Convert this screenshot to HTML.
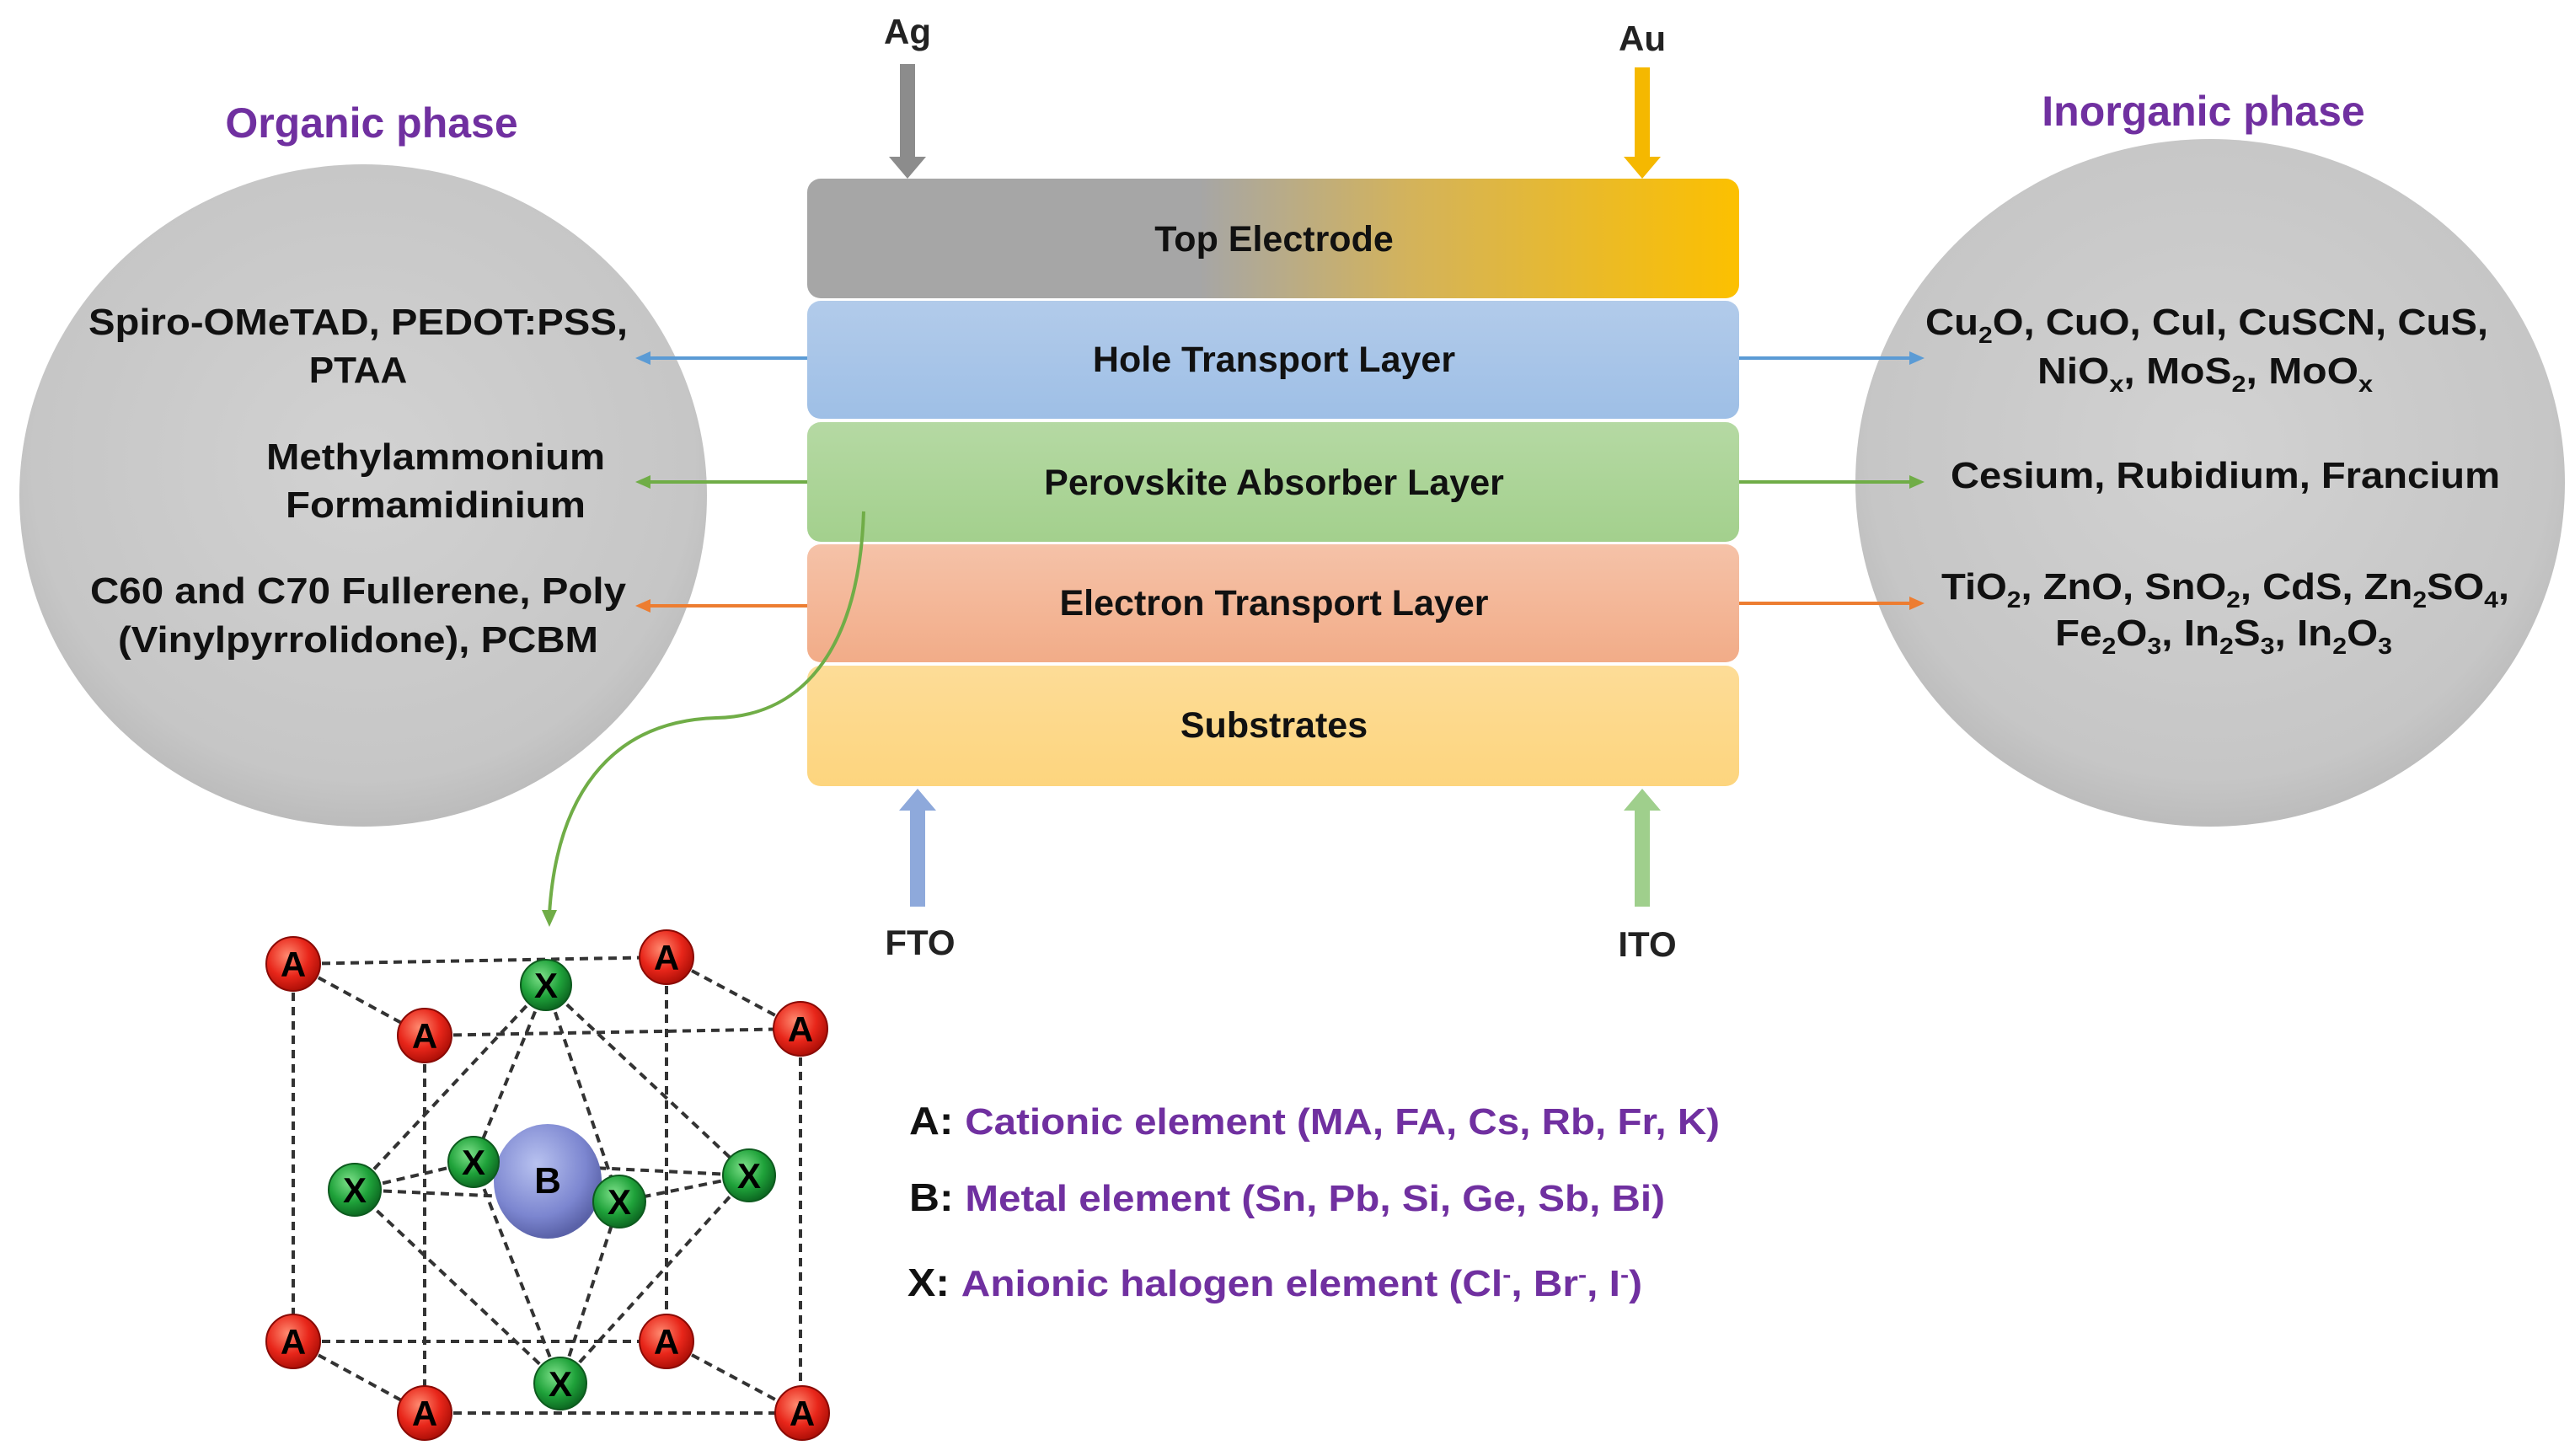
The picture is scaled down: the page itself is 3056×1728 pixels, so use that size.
<!DOCTYPE html>
<html><head><meta charset="utf-8"><style>html,body{margin:0;padding:0;background:#fff}svg{display:block}</style></head>
<body>
<svg width="3056" height="1728" viewBox="0 0 3056 1728" xmlns="http://www.w3.org/2000/svg" font-family="Liberation Sans, Arial, sans-serif" font-weight="bold">
<defs>
<radialGradient id="gc" cx="0.5" cy="0.45" r="0.6"><stop offset="0" stop-color="#d2d2d2"/><stop offset="0.8" stop-color="#c6c6c6"/><stop offset="1" stop-color="#b4b4b4"/></radialGradient>
<linearGradient id="te" x1="0" y1="0" x2="1" y2="0"><stop offset="0" stop-color="#a6a6a6"/><stop offset="0.42" stop-color="#a6a6a6"/><stop offset="0.65" stop-color="#d4b35a"/><stop offset="1" stop-color="#fcc000"/></linearGradient>
<linearGradient id="htl" x1="0" y1="0" x2="0" y2="1"><stop offset="0" stop-color="#b2cbea"/><stop offset="1" stop-color="#9ebfe6"/></linearGradient>
<linearGradient id="pv" x1="0" y1="0" x2="0" y2="1"><stop offset="0" stop-color="#b5d9a3"/><stop offset="1" stop-color="#a3d08d"/></linearGradient>
<linearGradient id="etl" x1="0" y1="0" x2="0" y2="1"><stop offset="0" stop-color="#f5c2a8"/><stop offset="1" stop-color="#f2ac88"/></linearGradient>
<linearGradient id="sub" x1="0" y1="0" x2="0" y2="1"><stop offset="0" stop-color="#fddc97"/><stop offset="1" stop-color="#fdd57e"/></linearGradient>
<radialGradient id="ga" cx="0.4" cy="0.35" r="0.65"><stop offset="0" stop-color="#ff8a70"/><stop offset="0.6" stop-color="#e8261a"/><stop offset="1" stop-color="#b01008"/></radialGradient>
<radialGradient id="gx" cx="0.4" cy="0.35" r="0.65"><stop offset="0" stop-color="#7ee08a"/><stop offset="0.6" stop-color="#1fa23a"/><stop offset="1" stop-color="#0d6a22"/></radialGradient>
<radialGradient id="gb" cx="0.4" cy="0.35" r="0.65"><stop offset="0" stop-color="#b8c2f0"/><stop offset="0.7" stop-color="#7c86d0"/><stop offset="1" stop-color="#5a62a8"/></radialGradient>
</defs>

<ellipse cx="431" cy="588" rx="408" ry="393" fill="url(#gc)"/>
<ellipse cx="2623" cy="573" rx="421" ry="408" fill="url(#gc)"/>

<text x="441" y="163" font-size="50" fill="#7030a0" text-anchor="middle">Organic phase</text>
<text x="2615" y="149" font-size="50" fill="#7030a0" text-anchor="middle">Inorganic phase</text>

<rect x="958" y="212" width="1106" height="142" rx="16" fill="url(#te)"/>
<rect x="958" y="357" width="1106" height="140" rx="16" fill="url(#htl)"/>
<rect x="958" y="501" width="1106" height="142" rx="16" fill="url(#pv)"/>
<rect x="958" y="646" width="1106" height="140" rx="16" fill="url(#etl)"/>
<rect x="958" y="790" width="1106" height="143" rx="16" fill="url(#sub)"/>
<g font-size="43" text-anchor="middle" fill="#111">
<text x="1512" y="298">Top Electrode</text>
<text x="1512" y="441">Hole Transport Layer</text>
<text x="1512" y="587">Perovskite Absorber Layer</text>
<text x="1512" y="730">Electron Transport Layer</text>
<text x="1512" y="875">Substrates</text>
</g>

<text x="1077" y="52" font-size="42" text-anchor="middle" fill="#222">Ag</text>
<rect x="1068" y="76" width="18" height="112" fill="#8c8c8c"/>
<polygon points="1055,186 1099,186 1077,212" fill="#8c8c8c"/>
<text x="1949" y="60" font-size="42" text-anchor="middle" fill="#222">Au</text>
<rect x="1940" y="80" width="18" height="108" fill="#f5b800"/>
<polygon points="1927,186 1971,186 1949,212" fill="#f5b800"/>

<rect x="1080" y="958" width="18" height="118" fill="#8ea9db"/>
<polygon points="1067,962 1111,962 1089,936" fill="#8ea9db"/>
<text x="1092" y="1133" font-size="42" text-anchor="middle" fill="#222">FTO</text>
<rect x="1940" y="958" width="18" height="118" fill="#9fcf8c"/>
<polygon points="1927,962 1971,962 1949,936" fill="#9fcf8c"/>
<text x="1955" y="1135" font-size="42" text-anchor="middle" fill="#222">ITO</text>

<g stroke-width="4">
<line x1="958" y1="425" x2="768" y2="425" stroke="#5b9bd5"/><polygon points="754,425 772,417 772,433" fill="#5b9bd5"/>
<line x1="958" y1="572" x2="768" y2="572" stroke="#70ad47"/><polygon points="754,572 772,564 772,580" fill="#70ad47"/>
<line x1="958" y1="719" x2="768" y2="719" stroke="#ed7d31"/><polygon points="754,719 772,711 772,727" fill="#ed7d31"/>
<line x1="2064" y1="425" x2="2268" y2="425" stroke="#5b9bd5"/><polygon points="2284,425 2266,417 2266,433" fill="#5b9bd5"/>
<line x1="2064" y1="572" x2="2268" y2="572" stroke="#70ad47"/><polygon points="2284,572 2266,564 2266,580" fill="#70ad47"/>
<line x1="2064" y1="716" x2="2268" y2="716" stroke="#ed7d31"/><polygon points="2284,716 2266,708 2266,724" fill="#ed7d31"/>
</g>

<g font-size="44" fill="#111" text-anchor="middle">
<text x="425" y="397" textLength="640" lengthAdjust="spacingAndGlyphs">Spiro-OMeTAD, PEDOT:PSS,</text>
<text x="425" y="454">PTAA</text>
<text x="517" y="557" textLength="402" lengthAdjust="spacingAndGlyphs">Methylammonium</text>
<text x="517" y="614" textLength="356" lengthAdjust="spacingAndGlyphs">Formamidinium</text>
<text x="425" y="716" textLength="636" lengthAdjust="spacingAndGlyphs">C60 and C70 Fullerene, Poly</text>
<text x="425" y="774" textLength="570" lengthAdjust="spacingAndGlyphs">(Vinylpyrrolidone), PCBM</text>
</g>

<g font-size="44" fill="#111" text-anchor="middle">
<text x="2619" y="397" textLength="668" lengthAdjust="spacingAndGlyphs">Cu<tspan font-size="28" dy="10">2</tspan><tspan dy="-10">O, CuO, CuI, CuSCN, CuS,</tspan></text>
<text x="2617" y="455" textLength="398" lengthAdjust="spacingAndGlyphs">NiO<tspan font-size="28" dy="10">x</tspan><tspan dy="-10">, MoS</tspan><tspan font-size="28" dy="10">2</tspan><tspan dy="-10">, MoO</tspan><tspan font-size="28" dy="10">x</tspan></text>
<text x="2641" y="579" textLength="652" lengthAdjust="spacingAndGlyphs">Cesium, Rubidium, Francium</text>
<text x="2641" y="711" textLength="674" lengthAdjust="spacingAndGlyphs">TiO<tspan font-size="28" dy="10">2</tspan><tspan dy="-10">, ZnO, SnO</tspan><tspan font-size="28" dy="10">2</tspan><tspan dy="-10">, CdS, Zn</tspan><tspan font-size="28" dy="10">2</tspan><tspan dy="-10">SO</tspan><tspan font-size="28" dy="10">4</tspan><tspan dy="-10">,</tspan></text>
<text x="2639" y="766" textLength="400" lengthAdjust="spacingAndGlyphs">Fe<tspan font-size="28" dy="10">2</tspan><tspan dy="-10">O</tspan><tspan font-size="28" dy="10">3</tspan><tspan dy="-10">, In</tspan><tspan font-size="28" dy="10">2</tspan><tspan dy="-10">S</tspan><tspan font-size="28" dy="10">3</tspan><tspan dy="-10">, In</tspan><tspan font-size="28" dy="10">2</tspan><tspan dy="-10">O</tspan><tspan font-size="28" dy="10">3</tspan></text>
</g>

<path d="M1025,607 C1020,760 960,850 850,852 C720,856 660,950 652,1085" fill="none" stroke="#70ad47" stroke-width="4"/>
<polygon points="652,1100 643,1080 661,1080" fill="#70ad47"/>

<g stroke="#333" stroke-width="4" stroke-dasharray="10,7" fill="none">
<line x1="348" y1="1144" x2="791" y2="1136"/>
<line x1="348" y1="1144" x2="348" y2="1592"/>
<line x1="791" y1="1136" x2="791" y2="1592"/>
<line x1="348" y1="1592" x2="791" y2="1592"/>
<line x1="504" y1="1229" x2="950" y2="1221"/>
<line x1="504" y1="1229" x2="504" y2="1677"/>
<line x1="950" y1="1221" x2="950" y2="1677"/>
<line x1="504" y1="1677" x2="950" y2="1677"/>
<line x1="348" y1="1144" x2="504" y2="1229"/>
<line x1="791" y1="1136" x2="950" y2="1221"/>
<line x1="348" y1="1592" x2="504" y2="1677"/>
<line x1="791" y1="1592" x2="950" y2="1677"/>
<line x1="648" y1="1169" x2="421" y2="1412"/>
<line x1="648" y1="1169" x2="889" y2="1395"/>
<line x1="648" y1="1169" x2="562" y2="1379"/>
<line x1="648" y1="1169" x2="735" y2="1426"/>
<line x1="665" y1="1642" x2="421" y2="1412"/>
<line x1="665" y1="1642" x2="889" y2="1395"/>
<line x1="665" y1="1642" x2="562" y2="1379"/>
<line x1="665" y1="1642" x2="735" y2="1426"/>
<line x1="421" y1="1412" x2="562" y2="1379"/>
<line x1="421" y1="1412" x2="735" y2="1426"/>
<line x1="889" y1="1395" x2="562" y2="1379"/>
<line x1="889" y1="1395" x2="735" y2="1426"/>
</g>
<g font-size="42" font-weight="bold" text-anchor="middle" fill="#000">
<ellipse cx="650" cy="1402" rx="64" ry="68" fill="url(#gb)"/>
<text x="650" y="1416" font-size="44">B</text>
<g stroke="#0d5a1e" stroke-width="2">
<circle cx="648" cy="1169" r="30" fill="url(#gx)"/>
<circle cx="421" cy="1412" r="31" fill="url(#gx)"/>
<circle cx="562" cy="1379" r="30" fill="url(#gx)"/>
<circle cx="735" cy="1426" r="31" fill="url(#gx)"/>
<circle cx="889" cy="1395" r="31" fill="url(#gx)"/>
<circle cx="665" cy="1642" r="31" fill="url(#gx)"/>
</g>
<g stroke="none">
<text x="648" y="1184">X</text><text x="421" y="1427">X</text><text x="562" y="1394">X</text>
<text x="735" y="1441">X</text><text x="889" y="1410">X</text><text x="665" y="1657">X</text>
</g>
<g stroke="#8a0a05" stroke-width="2">
<circle cx="348" cy="1144" r="32" fill="url(#ga)"/>
<circle cx="791" cy="1136" r="32" fill="url(#ga)"/>
<circle cx="504" cy="1229" r="32" fill="url(#ga)"/>
<circle cx="950" cy="1221" r="32" fill="url(#ga)"/>
<circle cx="348" cy="1592" r="32" fill="url(#ga)"/>
<circle cx="791" cy="1592" r="32" fill="url(#ga)"/>
<circle cx="504" cy="1677" r="32" fill="url(#ga)"/>
<circle cx="952" cy="1677" r="32" fill="url(#ga)"/>
</g>
<g stroke="none">
<text x="348" y="1159">A</text><text x="791" y="1151">A</text><text x="504" y="1244">A</text><text x="950" y="1236">A</text>
<text x="348" y="1607">A</text><text x="791" y="1607">A</text><text x="504" y="1692">A</text><text x="952" y="1692">A</text>
</g>
</g>

<g font-size="46">
<text x="1079" y="1346" fill="#111" textLength="962" lengthAdjust="spacingAndGlyphs">A: <tspan fill="#7030a0" font-size="44">Cationic element (MA, FA, Cs, Rb, Fr, K)</tspan></text>
<text x="1079" y="1437" fill="#111" textLength="897" lengthAdjust="spacingAndGlyphs">B: <tspan fill="#7030a0" font-size="44">Metal element (Sn, Pb, Si, Ge, Sb, Bi)</tspan></text>
<text x="1077" y="1538" fill="#111" textLength="872" lengthAdjust="spacingAndGlyphs">X: <tspan fill="#7030a0" font-size="44">Anionic halogen element (Cl<tspan font-size="28" dy="-16">-</tspan><tspan dy="16">, Br</tspan><tspan font-size="28" dy="-16">-</tspan><tspan dy="16">, I</tspan><tspan font-size="28" dy="-16">-</tspan><tspan dy="16">)</tspan></tspan></text>
</g>
</svg>
</body></html>
